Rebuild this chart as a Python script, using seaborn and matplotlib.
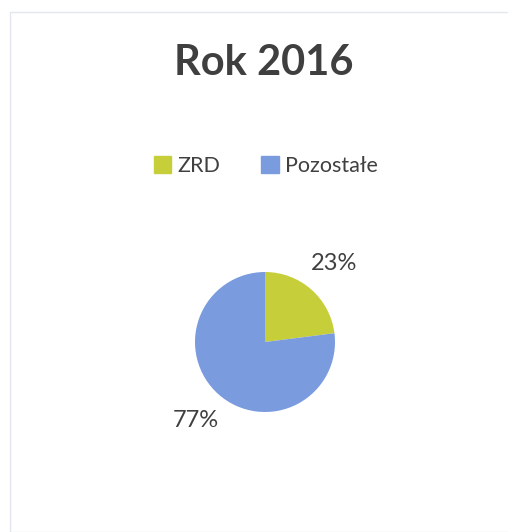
import matplotlib
matplotlib.use("Agg")
import matplotlib.pyplot as plt
import matplotlib.patches as mpatches
import seaborn as sns

title = "Rok 2016"
categories = ["ZRD", "Pozostałe"]
shares = [23, 77]
colors = ["#C6CF3A", "#7B9BDF"]

sns.set_theme(style="white")
plt.rcParams["font.family"] = ["Lato", "DejaVu Sans"]

fig = plt.figure(figsize=(5.08, 5.32), dpi=100)
fig.patch.set_facecolor("white")

# faint chart border
fig.add_artist(mpatches.Rectangle((10 / 508, 0.0), 1.0, 1 - 12 / 532,
                                  transform=fig.transFigure, fill=False,
                                  edgecolor="#E3E6EC", linewidth=1.0))

fig.text(264 / 508, 1 - 63 / 532, title, ha="center", va="center",
         fontsize=30, fontweight="bold", color="#3F3F3F")

# pie axes: centre (265, 342) px, radius 70 px
cx, cy, r = 265, 342, 70
half = 150
ax = fig.add_axes([(cx - half) / 508, 1 - (cy + half) / 532,
                   2 * half / 508, 2 * half / 532])
wedges, _, autotexts = ax.pie(shares, colors=colors, startangle=90,
                              counterclock=False, radius=1,
                              autopct="%d%%", pctdistance=1.5,
                              wedgeprops=dict(linewidth=0))
for t in autotexts:
    t.set_fontsize(17)
    t.set_color("#404040")
ax.set_xlim(-half / r, half / r)
ax.set_ylim(-half / r, half / r)
ax.set_aspect("equal")
ax.axis("off")

handles = [mpatches.Patch(color=c, label=l) for c, l in zip(colors, categories)]
fig.legend(handles=handles, loc="center", bbox_to_anchor=(266 / 508, 1 - 166 / 532),
           ncol=2, frameon=False, fontsize=15.5, handlelength=0.8, handleheight=0.8,
           handletextpad=0.3, columnspacing=1.9, labelcolor="#404040")

fig.savefig("out.png", dpi=100, facecolor="white")
